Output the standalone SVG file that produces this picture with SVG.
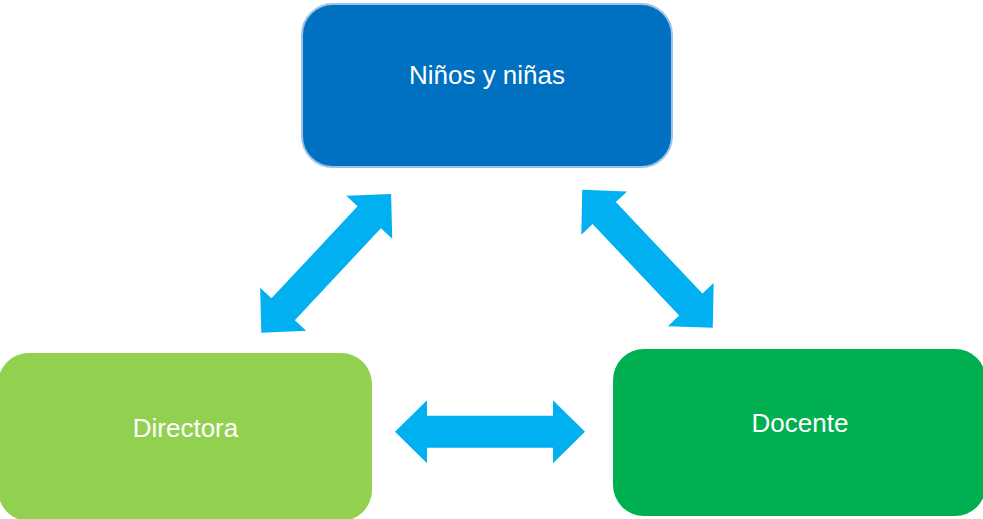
<svg xmlns="http://www.w3.org/2000/svg" width="983" height="519" viewBox="0 0 983 519">
  <style>
    .lbl { font-family: "Liberation Sans", Arial, sans-serif; font-size: 26px; fill: #ffffff; text-anchor: middle; }
    .arrow { fill: #00B0F0; }
  </style>
  <defs>
    <polygon id="dblArrow" points="-95,0 -63,-31.5 -63,-16 63,-16 63,-31.5 95,0 63,31.5 63,16 -63,16 -63,31.5"/>
  </defs>
  <rect width="983" height="519" fill="#ffffff"/>
  <g id="connectors">
    <use href="#dblArrow" class="arrow" transform="translate(326.2,263.3) rotate(-46.9)"/>
    <use href="#dblArrow" class="arrow" transform="translate(647.5,258.8) rotate(46.6)"/>
    <use href="#dblArrow" class="arrow" transform="translate(490,431.8)"/>
  </g>
  <g id="node-ninos">
    <rect x="302" y="4" width="370" height="163" rx="31" fill="#0070C0" stroke="#9DC3E6" stroke-width="2"/>
    <text class="lbl" x="487" y="84">Niños y niñas</text>
  </g>
  <g id="node-directora">
    <rect x="-2" y="353" width="374" height="168" rx="31" fill="#92D050"/>
    <text class="lbl" x="185.5" y="437">Directora</text>
  </g>
  <g id="node-docente">
    <rect x="613" y="349" width="373" height="167" rx="31" fill="#00B050"/>
    <text class="lbl" x="800" y="432">Docente</text>
  </g>
</svg>
